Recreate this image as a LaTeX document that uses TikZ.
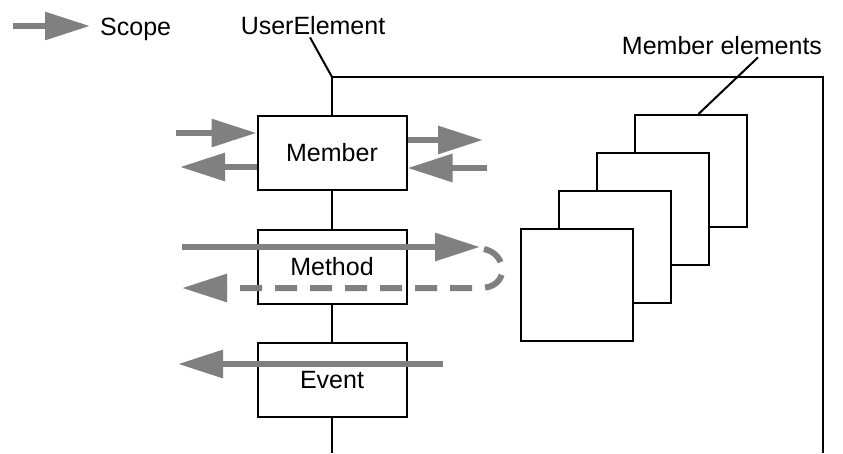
\documentclass[tikz,border=0pt]{standalone}
\usepackage{fontspec}
\setmainfont{Liberation Sans}
\usetikzlibrary{arrows.meta,positioning}

\begin{document}
\begin{tikzpicture}[
  x=1pt, y=-1pt,
  font=\fontsize{25}{30}\selectfont,
  box/.style={draw, line width=2pt, fill=white, minimum width=149pt, minimum height=74pt, inner sep=0pt},
  elem/.style={draw, line width=2pt, fill=white, minimum width=112pt, minimum height=112pt, inner sep=0pt},
  frame/.style={line width=2pt},
  scope/.style={draw=black!50, line width=6pt, -{Triangle[length=45pt,width=27pt]}, black!50},
  scopeback/.style={scope, dash pattern=on 22pt off 13pt}
]
\useasboundingbox (0,0) rectangle (843,453);

\node[anchor=west, inner sep=0pt] (scopelbl) at (100,29) {Scope};
\coordinate (legA) at (13,26);
\coordinate (legB) at (90,26);
\draw[scope] (legA) -- (legB);

\node[inner sep=2pt] (userlbl) at (313,26) {UserElement};
\node[inner sep=2pt] (elemlbl) at (722,46) {Member elements};

\coordinate (corner) at (332,77);
\coordinate (topright) at (823,77);
\coordinate (botright) at (823,453);
\coordinate (bottom) at (332,453);

\node[box] (member) at (332,153) {\raisebox{-3pt}{Member}};
\node[box] (method) at (332,266.5) {\raisebox{-3pt}{Method}};
\node[box] (event) at (332,380) {\raisebox{-3pt}{Event}};

\draw[frame] (bottom) -- (event.south);
\draw[frame] (event.north) -- (method.south);
\draw[frame] (method.north) -- (member.south);
\draw[frame] (member.north) -- (corner) -- (topright) -- (botright);
\draw[frame] ([xshift=-3pt]userlbl.south) -- (corner);

\foreach \i in {3,2,1,0}
  \node[elem] (elem\i) at (576.5+38*\i,285-38*\i) {};
\draw[frame] ([xshift=36pt]elemlbl.south) -- ([xshift=8pt]elem3.north);

\coordinate (minL) at (176,133);
\coordinate (moutL) at (180,167);
\coordinate (moutR) at (483,140);
\coordinate (minR) at (487,168);
\draw[scope] (minL) -- ([yshift=20pt]member.west);
\draw[scope] ([yshift=-14pt]member.west) -- (moutL);
\draw[scope] ([yshift=13pt]member.east) -- (moutR);
\draw[scope] (minR) -- ([yshift=-15pt]member.east);

\coordinate (callA) at (182,247);
\coordinate (callB) at (480,247);
\coordinate (retA) at (484,249);
\coordinate (retB) at (182,288);
\draw[scope] (callA) -- (callB);
\draw[scopeback] (retA) .. controls (508,254) and (510,288) .. (480,288) -- (retB);

\coordinate (evA) at (443,364);
\coordinate (evB) at (178,364);
\draw[scope] (evA) -- (evB);
\end{tikzpicture}
\end{document}
